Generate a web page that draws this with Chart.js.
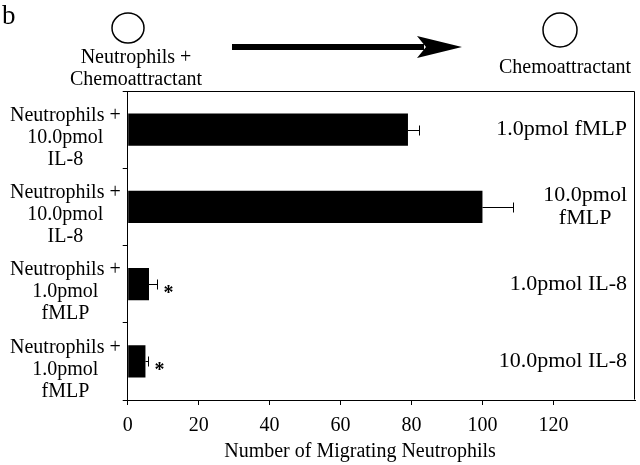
<!DOCTYPE html>
<html>
<head>
<meta charset="utf-8">
<script src="https://cdn.jsdelivr.net/npm/chart.js@4"></script>
<style>
  html, body { margin: 0; padding: 0; background: #fff; }
  #wrap { width: 640px; height: 465px; }
</style>
</head>
<body>
<div id="wrap"><canvas id="myChart"></canvas></div>
<script>
// lower compartment contents (y axis categories)
var lowerLabels = [
    ['Neutrophils +', '10.0pmol', 'IL-8'],
    ['Neutrophils +', '10.0pmol', 'IL-8'],
    ['Neutrophils +', '1.0pmol', 'fMLP'],
    ['Neutrophils +', '1.0pmol', 'fMLP']
]
// upper compartment contents (right side labels)
var upperLabels = [
    ['1.0pmol fMLP'],
    ['10.0pmol', 'fMLP'],
    ['1.0pmol IL-8'],
    ['10.0pmol IL-8']
]
var migrating = [79, 100, 6, 5]
var errors = [3, 8.5, 2.3, 0.8]
var significant = [false, false, true, true]
var xMax = 143
var xLastTick = 120

var serif = "'Liberation Serif', 'Times New Roman', serif"
var ctx = document.querySelector("#myChart").getContext("2d")

// frame, header drawing, error bars, asterisks, right labels, x title
var extras = {
    id: 'extras',
    afterDatasetsDraw: function(chart){
        var c = chart.ctx
        var area = chart.chartArea
        var xs = chart.scales.x
        var meta = chart.getDatasetMeta(0)
        c.save()
        c.strokeStyle = '#000'
        c.fillStyle = '#000'

        // top + right of the box
        c.lineWidth = 1
        c.beginPath()
        c.moveTo(area.left, area.top + 0.5)
        c.lineTo(area.right - 0.5, area.top + 0.5)
        c.lineTo(area.right - 0.5, area.bottom - 0.5)
        c.stroke()

        // error bars
        for(var i = 0; i < migrating.length; i++){
            var y = Math.round(meta.data[i].y) + 0.5
            var x0 = xs.getPixelForValue(migrating[i])
            var x1 = Math.round(xs.getPixelForValue(migrating[i] + errors[i])) + 0.5
            c.beginPath()
            c.moveTo(x0, y)
            c.lineTo(x1, y)
            c.moveTo(x1, y - 5)
            c.lineTo(x1, y + 5)
            c.stroke()
            if(significant[i]){
                c.font = 'bold 20px ' + serif
                c.textAlign = 'left'
                c.textBaseline = 'alphabetic'
                c.fillText('*', x1 + 6, y + 14)
            }
        }

        // chemoattractant labels inside the box, right side
        c.font = '22px ' + serif
        c.textBaseline = 'middle'
        c.textAlign = 'center'
        for(var i = 0; i < upperLabels.length; i++){
            var lines = upperLabels[i]
            var w = 0
            for(var j = 0; j < lines.length; j++) w = Math.max(w, c.measureText(lines[j]).width)
            var cx = area.right - 8 - w / 2
            var cy = meta.data[i].y
            var lh = 23
            for(var j = 0; j < lines.length; j++){
                c.fillText(lines[j], cx, cy + (j - (lines.length - 1) / 2) * lh)
            }
        }

        // x axis title
        c.font = '20px ' + serif
        c.textAlign = 'center'
        c.fillText('Number of Migrating Neutrophils', 360, 452)

        // header: panel letter, wells, arrow
        c.font = '27px ' + serif
        c.textAlign = 'left'
        c.textBaseline = 'alphabetic'
        c.fillText('b', 2, 24)

        c.lineWidth = 1.5
        c.beginPath()
        c.ellipse(128, 28, 16, 15, 0, 0, Math.PI * 2)
        c.stroke()
        c.beginPath()
        c.ellipse(560, 30, 17, 17, 0, 0, Math.PI * 2)
        c.stroke()

        c.font = '20px ' + serif
        c.textAlign = 'center'
        c.fillText('Neutrophils +', 136, 63)
        c.fillText('Chemoattractant', 136, 85)
        c.fillText('Chemoattractant', 565, 73)

        c.lineWidth = 6
        c.beginPath()
        c.moveTo(232, 47)
        c.lineTo(424, 47)
        c.stroke()
        c.beginPath()
        c.moveTo(462, 47)
        c.lineTo(417, 36)
        c.lineTo(426, 47)
        c.lineTo(417, 58)
        c.closePath()
        c.fill()
        c.restore()
    }
}

var myChart = new Chart(ctx, {
    type: 'bar',
    data: {
        labels: lowerLabels,
        datasets: [{
            label: 'Number of Migrating Neutrophils',
            data: migrating,
            backgroundColor: '#000',
            borderWidth: 0,
            barPercentage: 0.42,
            categoryPercentage: 1
        }]
    },
    plugins: [extras],
    options: {
        indexAxis: 'y',
        responsive: true,
        maintainAspectRatio: false,
        animation: false,
        layout: { padding: { top: 91, left: 8, right: 5, bottom: 18 } },
        plugins: {
            legend: { display: false },
            tooltip: { enabled: false }
        },
        scales: {
            x: {
                min: 0,
                max: xMax,
                afterBuildTicks: function(axis){
                    axis.ticks = axis.ticks.filter(function(t){ return t.value <= xLastTick })
                },
                ticks: {
                    stepSize: 20,
                    includeBounds: false,
                    color: '#000',
                    padding: 9,
                    maxRotation: 0,
                    font: { family: serif, size: 20 }
                },
                grid: {
                    drawOnChartArea: false,
                    tickLength: 5,
                    color: function(c){ return c.tick && c.tick.value > xLastTick ? 'rgba(0,0,0,0)' : '#000' }
                },
                border: { color: '#000', width: 1 }
            },
            y: {
                ticks: {
                    color: '#000',
                    padding: 2,
                    crossAlign: 'center',
                    labelOffset: 8,
                    font: { family: serif, size: 20, lineHeight: 1.1 }
                },
                grid: { drawOnChartArea: false, tickLength: 5, color: '#000', offset: true },
                border: { color: '#000', width: 1 }
            }
        }
    }
})
</script>
</body>
</html>
